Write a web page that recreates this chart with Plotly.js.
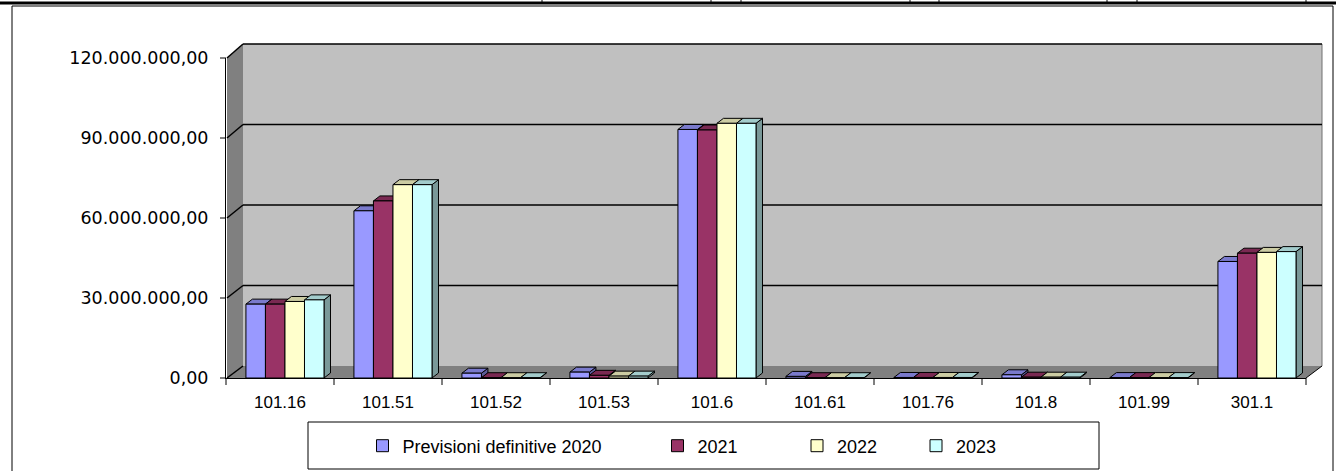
<!DOCTYPE html>
<html><head><meta charset="utf-8">
<script src="https://cdn.plot.ly/plotly-3.0.1.min.js"></script>
<style>html,body{margin:0;padding:0;background:#fff;}#chart{width:1336px;height:471px;}</style>
</head><body><div id="chart"></div>
<script>
// ---- data ----
const categories = ['101.16','101.51','101.52','101.53','101.6','101.61','101.76','101.8','101.99','301.1'];
const seriesNames = ['Previsioni definitive 2020','2021','2022','2023'];
const prev2020 = [27700000, 62700000, 1800000, 2200000, 93200000, 600000, 200000, 1200000, 150000, 43700000];
const y2021    = [27700000, 66400000, 100000, 1000000, 93000000, 100000, 200000, 300000, 150000, 46800000];
const y2022    = [28700000, 72500000, 100000, 700000, 95500000, 100000, 200000, 300000, 150000, 47100000];
const y2023    = [29300000, 72500000, 100000, 700000, 95500000, 100000, 200000, 300000, 150000, 47400000];
const yTicks   = [0, 30000000, 60000000, 90000000, 120000000];

// ---- styling / geometry ----
const colors = ['#9999FF','#993366','#FFFFCC','#CCFFFF'];
const topCol = ['#7A7ACC','#7A2952','#CCCCA3','#A3CCCC'];
const sideCol= ['#5C5C99','#5C1F3D','#99997A','#7A9999'];
const series = [prev2020, y2021, y2022, y2023];
const YMAX = 120000000;
const L = 226, R = 1323, T = 44, B = 378;
const px = p => (p - L) / (R - L);
const py = p => (B - p) / (B - T);
const barW = 0.18075, gOff = -0.3615 + 0.046;
const depthX = 0.06, depthY = 1875000;

const shapes = [];
function ppath(pts){ return 'M' + pts.map(p => px(p[0]) + ',' + py(p[1])).join(' L') + ' Z'; }
function pline(x0, y0, x1, y1, color, width){
  shapes.push({type:'line', xref:'paper', yref:'paper', layer:'below', x0:px(x0), x1:px(x1), y0:py(y0), y1:py(y1), line:{color:color, width:width}});
}
// walls
shapes.push({type:'path', xref:'paper', yref:'paper', layer:'below', path: ppath([[243,44],[1322,44],[1322,366],[243,366]]), fillcolor:'#C0C0C0', line:{width:0}});
shapes.push({type:'path', xref:'paper', yref:'paper', layer:'below', path: ppath([[227,58],[243,44],[243,366],[227,378]]), fillcolor:'#808080', line:{width:0}});
shapes.push({type:'path', xref:'paper', yref:'paper', layer:'below', path: ppath([[227,378],[243,366],[1322,366],[1306,378]]), fillcolor:'#808080', line:{width:0}});
pline(1322, 44, 1322, 366, '#707070', 1);
pline(1306, 378, 1322, 366, '#000', 1);
yTicks.forEach(v => {
  const yb = 366 - v / YMAX * 322, yf = 378 - v / YMAX * 320;
  if (v > 0) pline(243, yb, 1322, yb, '#000', 1.5);
  pline(227, yf, 243, yb, '#000', 1.5);
  pline(220, yf, 226, yf, '#000', 1);   // y tick marks
});
// x tick marks at category boundaries (front plane)
for (let j = 0; j <= categories.length; j++) {
  const xb = 226 + j * (1306 - 226) / categories.length;
  pline(xb, 378, xb, 385, '#000', 1);
}
// legend box, outer frame, top remnants
shapes.push({type:'rect', xref:'paper', yref:'paper', layer:'below', x0:px(308), x1:px(1099), y0:py(422), y1:py(469), line:{color:'#000', width:1}, fillcolor:'#fff'});
shapes.push({type:'rect', xref:'paper', yref:'paper', layer:'below', x0:px(12), x1:px(1333), y0:py(6), y1:py(500), line:{color:'#000', width:1}});
pline(0, 3, 1336, 3, '#000', 3);
[542,711,741,910,939,1107,1137,1306].forEach(x => pline(x, 0, x, 4, '#000', 1));
// 3D faces of bars (on the data axes)
categories.forEach((c, i) => {
  series.forEach((vals, k) => {
    const v = vals[i];
    const x0 = i + gOff + k * barW, x1 = x0 + barW;
    shapes.push({type:'path', xref:'x', yref:'y', layer:'between',
      path:`M${x1},0 L${x1},${v} L${x1+depthX},${v+depthY} L${x1+depthX},${depthY} Z`,
      fillcolor: sideCol[k], line:{color:'#000', width:1}});
    shapes.push({type:'path', xref:'x', yref:'y', layer:'between',
      path:`M${x0},${v} L${x1},${v} L${x1+depthX},${v+depthY} L${x0+depthX},${v+depthY} Z`,
      fillcolor: topCol[k], line:{color:'#000', width:1}});
  });
});

const traces = series.map((vals, k) => ({
  type:'bar', x: categories.map((c, i) => i), y: vals, name: seriesNames[k],
  width: barW, offset: gOff + k * barW,
  marker:{color: colors[k], line:{color:'#000', width:1}},
  legend: k === 0 ? 'legend' : 'legend' + (k + 1), hoverinfo:'skip'
}));

const legendTextX = [402.5, 697.5, 837, 956];
function legendAt(k){
  return {x: px(legendTextX[k] - 40), y: py(446), xanchor:'left', yanchor:'middle', orientation:'h',
    bgcolor:'rgba(0,0,0,0)', borderwidth:0, itemwidth:30,
    font:{family:'Liberation Sans, Arial, sans-serif', size:18, color:'#000'}};
}

const layout = {
  width:1336, height:471,
  margin:{l:L, r:1336-R, t:T, b:471-B, autoexpand:false},
  paper_bgcolor:'#fff', plot_bgcolor:'rgba(0,0,0,0)',
  separators:',.', barmode:'overlay', showlegend:true,
  xaxis:{domain:[0, px(1306)], range:[-0.5, 9.5], automargin:false,
    tickmode:'array', tickvals: categories.map((c, i) => i), ticktext: categories,
    ticks:'outside', ticklen:9, tickcolor:'rgba(0,0,0,0)',
    showline:true, linecolor:'#000', linewidth:1, showgrid:false, zeroline:false,
    tickfont:{family:'Liberation Sans, Arial, sans-serif', size:17, color:'#000'}},
  yaxis:{domain:[0, py(58)], range:[0, YMAX], automargin:false,
    tickmode:'array', tickvals: yTicks, tickformat:',.2f',
    ticks:'outside', ticklen:13, tickcolor:'rgba(0,0,0,0)', showline:true, linecolor:'#000', linewidth:1,
    showgrid:false, zeroline:false,
    tickfont:{family:'DejaVu Sans, Verdana, sans-serif', size:17.5, color:'#000'}},
  legend: legendAt(0), legend2: legendAt(1), legend3: legendAt(2), legend4: legendAt(3),
  shapes: shapes
};

Plotly.newPlot('chart', traces, layout, {displayModeBar:false, staticPlot:true});
</script></body></html>
